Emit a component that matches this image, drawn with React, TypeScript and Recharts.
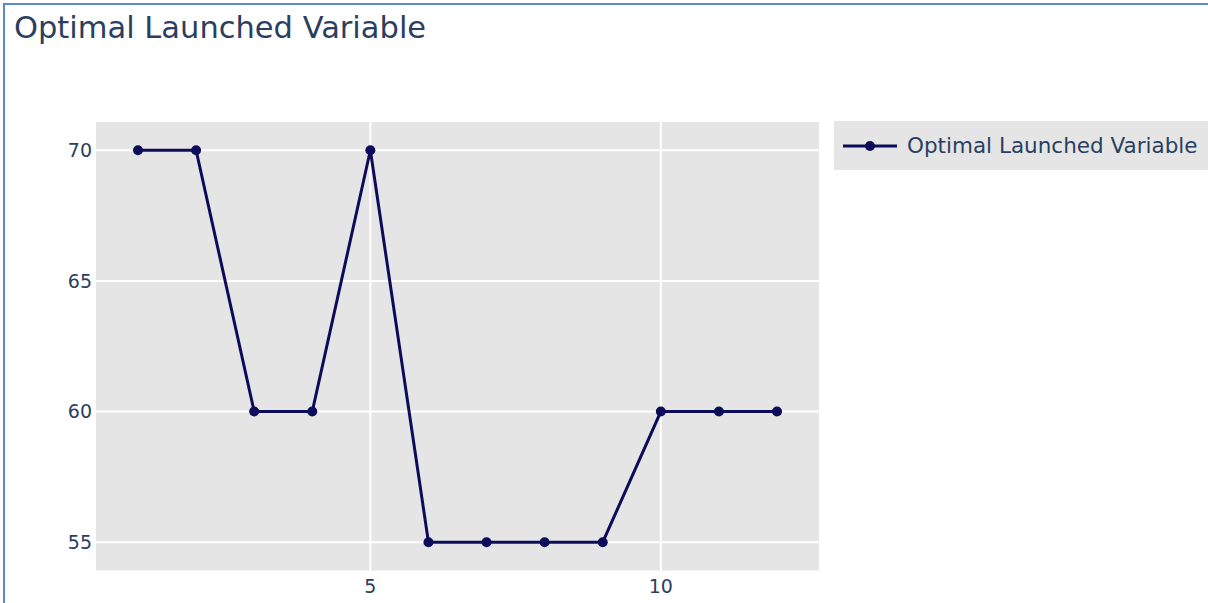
import React from "react";
import { LineChart, Line, XAxis, YAxis, CartesianGrid, Legend } from "recharts";

const steps = [1, 2, 3, 4, 5, 6, 7, 8, 9, 10, 11, 12];
const launchedValues = [70, 70, 60, 60, 70, 55, 55, 55, 55, 60, 60, 60];
const xTicks = [5, 10];
const yTicks = [55, 60, 65, 70];
const seriesName = "Optimal Launched Variable";
const titleText = "Optimal Launched Variable";

const data = steps.map((s, i) => ({ step: s, value: launchedValues[i] }));

const LINE_COLOR = "#0c0c5a";
const TEXT_COLOR = "#2a3f5f";
const FONT = "'DejaVu Sans', Verdana, sans-serif";

const LegendContent = () => (
  <div
    style={{
      background: "#e5e5e5",
      width: 374,
      height: 49,
      display: "flex",
      alignItems: "center",
      fontFamily: FONT,
      fontSize: 21.5,
      color: TEXT_COLOR,
      boxSizing: "border-box",
    }}
  >
    <svg width={64} height={20} style={{ marginLeft: 9, flex: "none" }}>
      <line x1={0} y1={10} x2={54} y2={10} stroke={LINE_COLOR} strokeWidth={3} />
      <circle cx={27} cy={10} r={5} fill={LINE_COLOR} />
    </svg>
    <span style={{ whiteSpace: "nowrap" }}>{seriesName}</span>
  </div>
);

export default function App() {
  return (
    <div style={{ position: "absolute", left: 0, top: 0, width: 1208, height: 603, background: "#fff", overflow: "hidden" }}>
      <div
        style={{
          position: "absolute",
          left: 3,
          top: 3,
          width: 1210,
          height: 610,
          borderLeft: "2px solid #5a8ad0",
          borderTop: "2px solid #5a8ad0",
          boxSizing: "border-box",
        }}
      />
      <div
        style={{
          position: "absolute",
          left: 14,
          top: 9,
          fontFamily: FONT,
          fontSize: 30.5,
          color: TEXT_COLOR,
          whiteSpace: "nowrap",
          lineHeight: "38px",
        }}
      >
        {titleText}
      </div>
      <LineChart
        width={1208}
        height={603}
        data={data}
        margin={{ top: 121, right: 388, bottom: 0, left: 0 }}
        style={{ position: "absolute", left: 0, top: 0 }}
      >
        <CartesianGrid stroke="#ffffff" strokeWidth={2} fill="#e5e5e5" fillOpacity={1} />
        <XAxis
          dataKey="step"
          type="number"
          domain={[0.26, 12.74]}
          ticks={xTicks}
          axisLine={false}
          tickLine={false}
          tickSize={0}
          tickMargin={8.5}
          height={31.5}
          tick={{ fill: TEXT_COLOR, fontSize: 19, fontFamily: FONT }}
          allowDataOverflow
        />
        <YAxis
          type="number"
          domain={[53.88, 71.12]}
          ticks={yTicks}
          axisLine={false}
          tickLine={false}
          tickSize={0}
          tickMargin={3}
          width={95}
          tick={{ fill: TEXT_COLOR, fontSize: 19, fontFamily: FONT }}
          allowDataOverflow
        />
        <Legend
          layout="horizontal"
          verticalAlign="middle"
          align="center"
          content={<LegendContent />}
          wrapperStyle={{ left: 834, top: 121, width: 374, height: 49, right: "auto", bottom: "auto" }}
        />
        <Line
          type="linear"
          dataKey="value"
          name={seriesName}
          stroke={LINE_COLOR}
          strokeWidth={3}
          dot={{ r: 5, fill: LINE_COLOR, stroke: LINE_COLOR, strokeWidth: 0 }}
          activeDot={false}
          isAnimationActive={false}
        />
      </LineChart>
    </div>
  );
}
